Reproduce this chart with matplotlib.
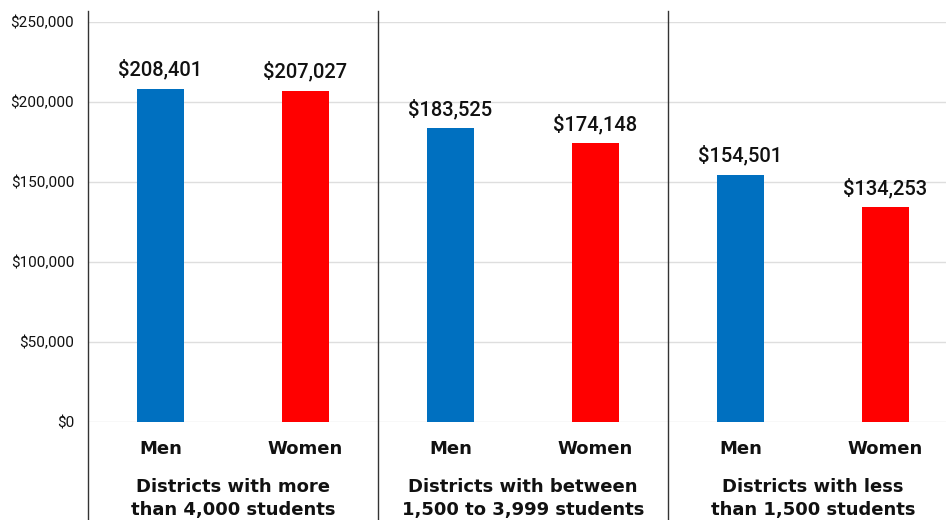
import matplotlib
matplotlib.use("Agg")
import matplotlib.pyplot as plt
from matplotlib.ticker import FuncFormatter

plt.rcParams["font.family"] = ["Roboto", "DejaVu Sans"]

GROUPS = [
    "Districts with more\nthan 4,000 students",
    "Districts with between\n1,500 to 3,999 students",
    "Districts with less\nthan 1,500 students",
]
CATEGORIES = ["Men", "Women"]
MEN = [208401, 183525, 154501]
WOMEN = [207027, 174148, 134253]
Y_TICKS = [0, 50000, 100000, 150000, 200000, 250000]

COLORS = {"Men": "#0070C0", "Women": "#FF0000"}
TEXT = "#111111"
HEAVY = dict(family="DejaVu Sans", fontweight="bold", fontsize=13, color=TEXT)

W, H = 946, 520
fig = plt.figure(figsize=(W / 100, H / 100), dpi=100)
# axes run a little past the right edge, like the original
ax = fig.add_axes([88 / W, (H - 422) / H, 870 / W, 400 / H])

bar_w = 0.16
for i, (m, f) in enumerate(zip(MEN, WOMEN)):
    for off, cat, val in [(0.25, "Men", m), (0.75, "Women", f)]:
        x = i + off
        ax.bar(x, val, width=bar_w, color=COLORS[cat], zorder=3)
        ax.annotate(f"${val:,}", (x, val), xytext=(0, 6.5),
                    textcoords="offset points", ha="center", va="bottom",
                    fontsize=14.5, fontweight="medium", color=TEXT)
        ax.text(x, -20000, cat, ha="center", va="baseline", **HEAVY)
    # group label, one line at a time so baselines are exact
    for k, line in enumerate(GROUPS[i].split("\n")):
        ax.text(i + 0.5, -43750 - k * 14400, line, ha="center",
                va="baseline", **HEAVY)
    # separator lines running from the top down past the axis
    ax.axvline(i, ymin=-0.25, ymax=1.0275, color="#333333",
               linewidth=1.0, clip_on=False, zorder=4)

ax.set_xlim(0, 3)
ax.set_ylim(0, 250000)
ax.set_yticks(Y_TICKS)
ax.yaxis.set_major_formatter(FuncFormatter(lambda v, p: f"${int(v):,}"))
ax.tick_params(axis="y", length=0, pad=10, labelsize=11, labelcolor=TEXT)
ax.set_xticks([])
ax.grid(axis="y", color="#dedede", linewidth=1.0, zorder=0)
for s in ax.spines.values():
    s.set_visible(False)

fig.savefig("out.png", dpi=100)
